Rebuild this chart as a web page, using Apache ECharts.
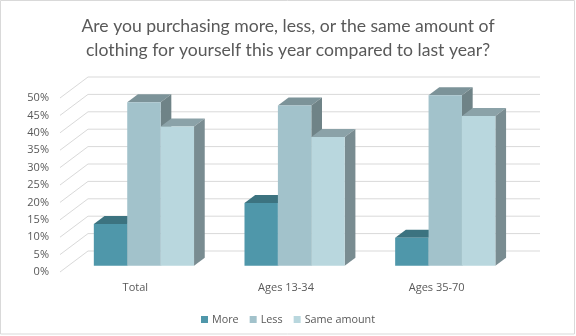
<!DOCTYPE html>
<html>
<head>
<meta charset="utf-8">
<script src="https://cdn.jsdelivr.net/npm/echarts@6/dist/echarts.min.js"></script>
<style>
  html, body { margin: 0; padding: 0; background: #ffffff; }
  #chart { width: 576px; height: 336px; }
</style>
</head>
<body>
<div id="chart"></div>
<script>
// Survey answers by age group (share of respondents)
const categories = ['Total', 'Ages 13-34', 'Ages 35-70'];
const seriesNames = ['More', 'Less', 'Same amount'];
const moreValues = [0.12, 0.18, 0.08];
const lessValues = [0.47, 0.46, 0.49];
const sameValues = [0.40, 0.37, 0.43];
const axisTicks = [0, 0.05, 0.10, 0.15, 0.20, 0.25, 0.30, 0.35, 0.40, 0.45, 0.50];

// Pseudo-3D geometry: offsets from the front of the floor
const WALL = [28, -21];      // back wall
const FRONT = [8.6, -6.3];   // front face of the columns
const DEPTH = [10.7, -8];    // column depth
const BAR_FRAC = 0.2217;     // column width as part of a category band

const palette = [
  { front: '#4f97aa', top: '#3c7380', side: '#3a6d79' },
  { front: '#a2c2cb', top: '#7c9399', side: '#6f8387' },
  { front: '#b9d7de', top: '#8ba2a8', side: '#798c91' }
];

const textColor = '#595959';
const gridColor = '#d9d9d9';

function columnRenderer(idx) {
  const c = palette[idx];
  return function (params, api) {
    const cat = api.value(0);
    const val = api.value(1);
    const base = api.coord([cat, 0]);
    const top = api.coord([cat, val]);
    const band = api.size([1, 0])[0];
    const w = band * BAR_FRAC;
    const x0 = base[0] - 1.5 * w + idx * w + FRONT[0];
    const x1 = x0 + w;
    const yb = base[1] + FRONT[1];
    const yt = top[1] + FRONT[1];
    const dx = DEPTH[0], dy = DEPTH[1];
    return {
      type: 'group',
      children: [
        { type: 'polygon', shape: { points: [[x0, yt], [x1, yt], [x1 + dx, yt + dy], [x0 + dx, yt + dy]] }, style: { fill: c.top } },
        { type: 'polygon', shape: { points: [[x1, yt], [x1 + dx, yt + dy], [x1 + dx, yb + dy], [x1, yb]] }, style: { fill: c.side } },
        { type: 'rect', shape: { x: x0, y: yt, width: w, height: yb - yt }, style: { fill: c.front } }
      ]
    };
  };
}

// Side wall diagonals and back wall gridlines for each tick
function wallRenderer(params, api) {
  const v = api.value(1);
  const y = api.coord([0, v])[1];
  const cs = params.coordSys;
  const x = cs.x;
  return {
    type: 'group',
    children: [
      { type: 'line', shape: { x1: x, y1: y, x2: x + WALL[0], y2: y + WALL[1] }, style: { stroke: gridColor, lineWidth: 1 } },
      { type: 'line', shape: { x1: x + WALL[0], y1: y + WALL[1], x2: x + cs.width + WALL[0], y2: y + WALL[1] }, style: { stroke: gridColor, lineWidth: 1 } }
    ]
  };
}

const valueSets = [moreValues, lessValues, sameValues];

const chart = echarts.init(document.getElementById('chart'), null, { renderer: 'canvas' });

chart.setOption({
  animation: false,
  backgroundColor: '#ffffff',
  title: {
    text: 'Are you purchasing more, less, or the same amount of\nclothing for yourself this year compared to last year?',
    left: 'center',
    top: 9,
    textStyle: { fontFamily: 'Lato', fontSize: 17.6, fontWeight: 'normal', color: textColor, lineHeight: 24 }
  },
  legend: {
    data: seriesNames,
    left: 'center',
    top: 309,
    icon: 'rect',
    itemWidth: 7,
    itemHeight: 7,
    itemGap: 11,
    textStyle: { fontFamily: 'Open Sans', fontSize: 10.8, color: textColor, padding: [0, 0, 0, -1] }
  },
  graphic: [
    { type: 'rect', silent: true, z: 100, shape: { x: 0.5, y: 0.5, width: 574, height: 333.5 }, style: { fill: 'none', stroke: gridColor, lineWidth: 1 } }
  ],
  grid: { left: 60, right: 64, top: 98, bottom: 64 },
  xAxis: {
    type: 'category',
    data: categories,
    axisLine: { show: false },
    axisTick: { show: false },
    axisLabel: { fontFamily: 'Open Sans', fontSize: 11, color: textColor, margin: 10 }
  },
  yAxis: {
    type: 'value',
    min: 0,
    max: 0.5,
    interval: 0.05,
    axisLine: { show: false },
    axisTick: { show: false },
    splitLine: { show: false },
    axisLabel: {
      fontFamily: 'Open Sans', fontSize: 11, color: textColor, margin: 11,
      formatter: v => Math.round(v * 100) + '%'
    }
  },
  series: [
    {
      type: 'custom',
      name: 'walls',
      silent: true,
      renderItem: wallRenderer,
      data: axisTicks.map(t => [0, t]),
      z: 1
    }
  ].concat(seriesNames.map((name, i) => ({
    type: 'custom',
    name: name,
    renderItem: columnRenderer(i),
    itemStyle: { color: palette[i].front },
    data: valueSets[i].map((v, k) => [k, v]),
    z: 2 + i
  })))
});
</script>
</body>
</html>
